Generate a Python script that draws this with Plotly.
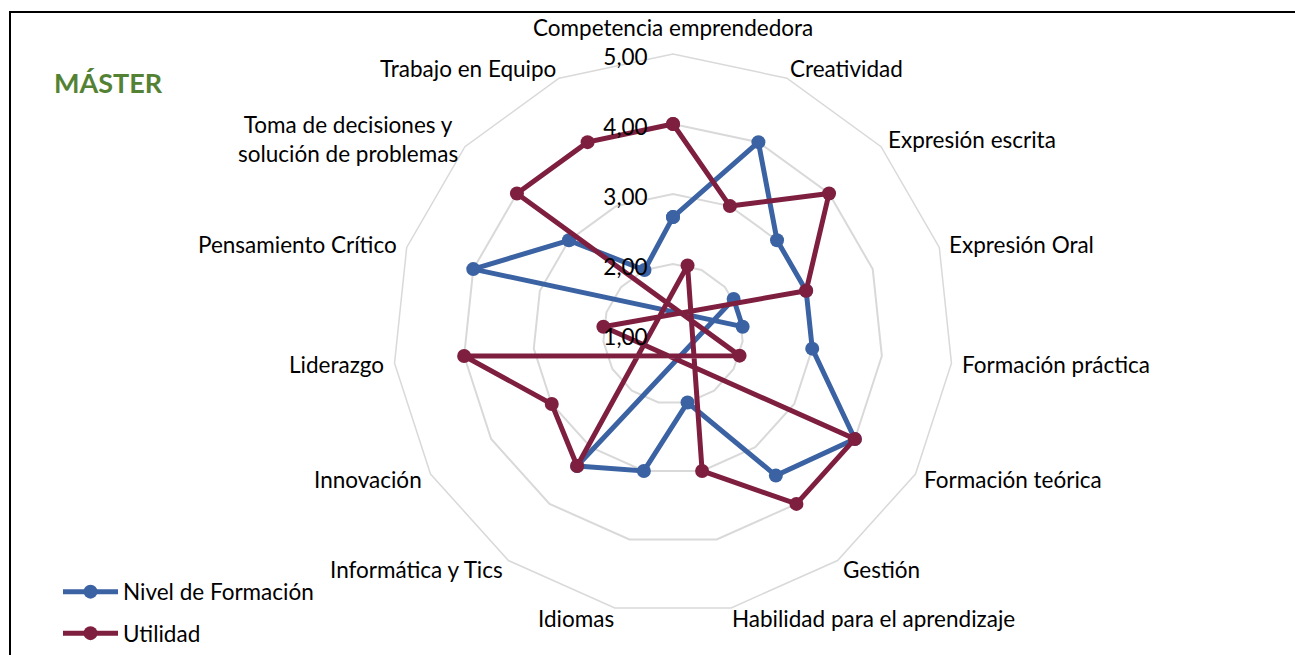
import math
import plotly.graph_objects as go

categories = [
    "Competencia emprendedora", "Creatividad", "Expresión escrita", "Expresión Oral",
    "Formación práctica", "Formación teórica", "Gestión", "Habilidad para el aprendizaje",
    "Idiomas", "Informática y Tics", "Innovación", "Liderazgo", "Pensamiento Crítico",
    "Toma de decisiones y<br>solución de problemas", "Trabajo en Equipo",
]
nivel_formacion = [2.67, 4.00, 3.00, 3.00, 3.00, 4.00, 3.50, 2.00, 3.00, 3.33, 0.00, 0.00, 4.00, 3.00, 2.00]
utilidad = [4.00, 3.00, 4.00, 3.00, 0.00, 4.00, 4.00, 3.00, 0.00, 3.33, 3.00, 4.00, 0.00, 4.00, 4.00]
radial_ticks = [1, 2, 3, 4, 5]
radial_ticktext = ["1,00", "2,00", "3,00", "4,00", "5,00"]

AXIS_MIN, AXIS_MAX = 1, 5
W, H = 1295, 655
BLUE = "#3B62A2"
RED = "#7F1F40"
GRID = "#D9D9D9"
FONT = "Lato"
FS = 22.5


def excel_radar(values):
    """Excel radar: values below the axis minimum are drawn through the centre."""
    n = len(values)
    step = 360.0 / n
    rr, tt = [], []
    for i, v in enumerate(values + values[:1]):
        k = i % n
        rr.append(AXIS_MIN + abs(v - AXIS_MIN))
        tt.append(k * step + (180.0 if v < AXIS_MIN else 0.0))
    return rr, tt


cx, cy, R = 673, 334, 280
dom_x = [(cx - R) / W, (cx + R) / W]
dom_y = [1 - (cy + R) / H, 1 - (cy - R) / H]
LABEL_DY = 3.5  # radial value labels sit slightly below their ring
dom_y_lbl = [dom_y[0] - LABEL_DY / H, dom_y[1] - LABEL_DY / H]

fig = go.Figure()

# invisible trace that defines the category grid
fig.add_trace(go.Scatterpolar(
    r=[AXIS_MIN] * len(categories), theta=categories, mode="markers",
    marker=dict(opacity=0), showlegend=False, hoverinfo="skip", subplot="polar",
))

r1, t1 = excel_radar(nivel_formacion)
fig.add_trace(go.Scatterpolar(
    r=r1, theta=t1, mode="lines+markers", name="Nivel de Formación",
    line=dict(color=BLUE, width=5), marker=dict(color=BLUE, size=14),
    subplot="polar2", legend="legend",
))
r2, t2 = excel_radar(utilidad)
fig.add_trace(go.Scatterpolar(
    r=r2, theta=t2, mode="lines+markers", name="Utilidad",
    line=dict(color=RED, width=5), marker=dict(color=RED, size=14),
    subplot="polar2", legend="legend2",
))

# invisible trace for the subplot that only carries the radial value labels
fig.add_trace(go.Scatterpolar(
    r=[AXIS_MIN], theta=[0], mode="markers", marker=dict(opacity=0),
    showlegend=False, hoverinfo="skip", subplot="polar3",
))

# category labels placed Excel-style just outside each polygon vertex
annotations = []
PAD_X, PAD_Y, SHIFT_X, SHIFT_Y = 12, 11, 3.5, 0
n = len(categories)
for i, cat in enumerate(categories):
    a = math.radians(i * 360.0 / n)
    s, c = math.sin(a), math.cos(a)
    py = cy - (R + PAD_Y) * c + SHIFT_Y
    if abs(s) < 0.05:
        px = cx
        xanchor = "center"
        yanchor = "bottom" if c > 0 else "top"
    else:
        side = 1 if s > 0 else -1
        px = cx + (R + PAD_X) * s - SHIFT_X * side
        xanchor = "left" if s > 0 else "right"
        yanchor = "middle"
    annotations.append(dict(
        text=cat, x=px / W, y=1 - py / H, xref="paper", yref="paper",
        xanchor=xanchor, yanchor=yanchor, showarrow=False, align="center",
        font=dict(family=FONT, size=FS, color="black"),
    ))

annotations.append(dict(
    text="<b>MÁSTER</b>", x=52 / W, y=1 - 82 / H, xref="paper", yref="paper",
    xanchor="left", yanchor="middle", showarrow=False,
    font=dict(family=FONT, size=27, color="#548235"),
))

hidden_angular = dict(
    type="linear", direction="clockwise", rotation=90, thetaunit="degrees",
    showgrid=False, showline=False, showticklabels=False, ticks="",
)

fig.update_layout(
    width=W, height=H, autosize=False,
    margin=dict(l=0, r=0, t=0, b=0),
    paper_bgcolor="white",
    font=dict(family=FONT, size=FS, color="black"),
    separators=",.",
    polar=dict(
        domain=dict(x=dom_x, y=dom_y),
        gridshape="linear",
        bgcolor="white",
        angularaxis=dict(
            type="category", direction="clockwise", rotation=90,
            showgrid=False, showline=True, linecolor=GRID, linewidth=1.5,
            ticks="", showticklabels=False,
        ),
        radialaxis=dict(
            range=[AXIS_MIN, AXIS_MAX], tickvals=radial_ticks, showticklabels=False,
            showline=False, ticks="", gridcolor=GRID, gridwidth=1.5, angle=90,
        ),
    ),
    polar2=dict(
        domain=dict(x=dom_x, y=dom_y),
        bgcolor="rgba(0,0,0,0)",
        angularaxis=hidden_angular,
        radialaxis=dict(
            range=[AXIS_MIN, AXIS_MAX], showgrid=False, showline=False,
            showticklabels=False, ticks="", angle=90,
        ),
    ),
    polar3=dict(
        domain=dict(x=dom_x, y=dom_y_lbl),
        bgcolor="rgba(0,0,0,0)",
        angularaxis=hidden_angular,
        radialaxis=dict(
            range=[AXIS_MIN, AXIS_MAX], tickvals=radial_ticks, ticktext=radial_ticktext,
            showgrid=False, showline=False, angle=90, side="counterclockwise",
            ticks="outside", ticklen=17, tickcolor="rgba(0,0,0,0)",
            tickangle=90,
            tickfont=dict(family=FONT, size=FS, color="black"), layer="above traces",
        ),
    ),
    legend=dict(
        x=58 / W, y=1 - 592 / H, xanchor="left", yanchor="middle", itemwidth=55,
        bgcolor="rgba(0,0,0,0)", font=dict(family=FONT, size=FS, color="black"),
    ),
    legend2=dict(
        x=58 / W, y=0, xanchor="left", yanchor="bottom", itemwidth=55,
        bgcolor="rgba(0,0,0,0)", font=dict(family=FONT, size=FS, color="black"),
    ),
    annotations=annotations,
    shapes=[dict(
        type="rect", xref="paper", yref="paper",
        x0=10 / W, y0=-0.05, x1=1.05, y1=1 - 12 / H,
        line=dict(color="black", width=2), fillcolor="rgba(0,0,0,0)", layer="below",
    )],
)

fig.write_html(
    "out.html",
    config={"displayModeBar": False},
    post_script="document.body.style.margin='0';",
)
